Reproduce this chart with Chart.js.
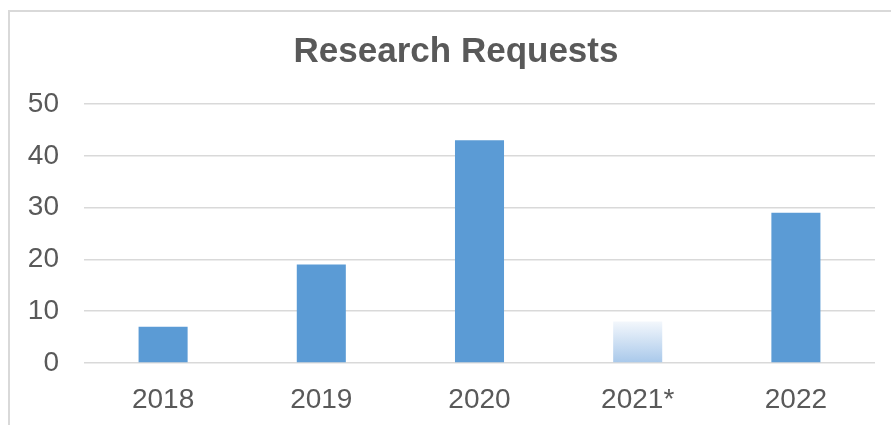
<!DOCTYPE html>
<html>
<head>
<meta charset="utf-8">
<script src="https://cdn.jsdelivr.net/npm/chart.js@4/dist/chart.umd.min.js"></script>
<style>
  html, body { margin: 0; padding: 0; background: #fff; }
  #wrap { position: relative; width: 891px; height: 425px; overflow: hidden; }
  #frame { position: absolute; left: 8px; top: 10px; width: 900px; height: 430px;
           border-left: 2px solid #d9d9d9; border-top: 2px solid #d9d9d9; }
  canvas { position: absolute; left: 0; top: 0; }
</style>
</head>
<body>
<div id="wrap">
  <div id="frame"></div>
  <canvas id="researchChart" width="891" height="425"></canvas>
</div>
<script>
'use strict';

const chartTitle = 'Research Requests';
const years = ['2018', '2019', '2020', '2021*', '2022'];
const requests = [7, 19, 43, 8, 29];
const yTicks = [0, 10, 20, 30, 40, 50];

const textColor = '#595959';
const gridColor = '#d9d9d9';
const barBlue = '#5b9bd5';

Chart.defaults.font.family = '"Liberation Sans", Arial, sans-serif';
Chart.defaults.color = textColor;

// 2021* is drawn faded (partial year)
function barFill(context) {
    const chart = context.chart;
    if (context.dataIndex !== 3 || !chart.chartArea) {
        return barBlue;
    }
    const y = chart.scales.y;
    const top = y.getPixelForValue(requests[3]);
    const base = y.getPixelForValue(0);
    const g = chart.ctx.createLinearGradient(0, top, 0, base);
    g.addColorStop(0, '#f3f7fc');
    g.addColorStop(1, '#a8c8ea');
    return g;
}

// title sits centred on the outer frame, not on the plot
const titlePlugin = {
    id: 'frameTitle',
    afterDraw(chart) {
        const c = chart.ctx;
        c.save();
        c.font = 'bold 35px "Liberation Sans", Arial, sans-serif';
        c.fillStyle = textColor;
        c.textAlign = 'center';
        c.textBaseline = 'middle';
        c.fillText(chartTitle, 456, 52);
        c.restore();
    }
};

const ctx = document.getElementById('researchChart').getContext('2d');
new Chart(ctx, {
    type: 'bar',
    data: {
        labels: years,
        datasets: [{
            label: chartTitle,
            data: requests,
            backgroundColor: barFill,
            borderWidth: 0,
            barPercentage: 0.31,
            categoryPercentage: 1
        }]
    },
    plugins: [titlePlugin],
    options: {
        responsive: false,
        animation: false,
        layout: {
            padding: { top: 104, right: 16, bottom: 10, left: 0 }
        },
        plugins: {
            legend: { display: false },
            tooltip: { enabled: false },
            title: { display: false }
        },
        scales: {
            x: {
                grid: { display: false },
                border: { display: false },
                afterFit: scale => { scale.height = 52; },
                ticks: { font: { size: 28 }, color: textColor, padding: 12 }
            },
            y: {
                min: 0,
                max: 50,
                afterBuildTicks: scale => {
                    scale.ticks = yTicks.map(v => ({ value: v }));
                },
                afterFit: scale => { scale.width = 84; },
                grid: { color: gridColor, lineWidth: 1.5, drawTicks: false },
                border: { display: false },
                ticks: { font: { size: 28 }, color: textColor, padding: 25 }
            }
        }
    }
});
</script>
</body>
</html>
